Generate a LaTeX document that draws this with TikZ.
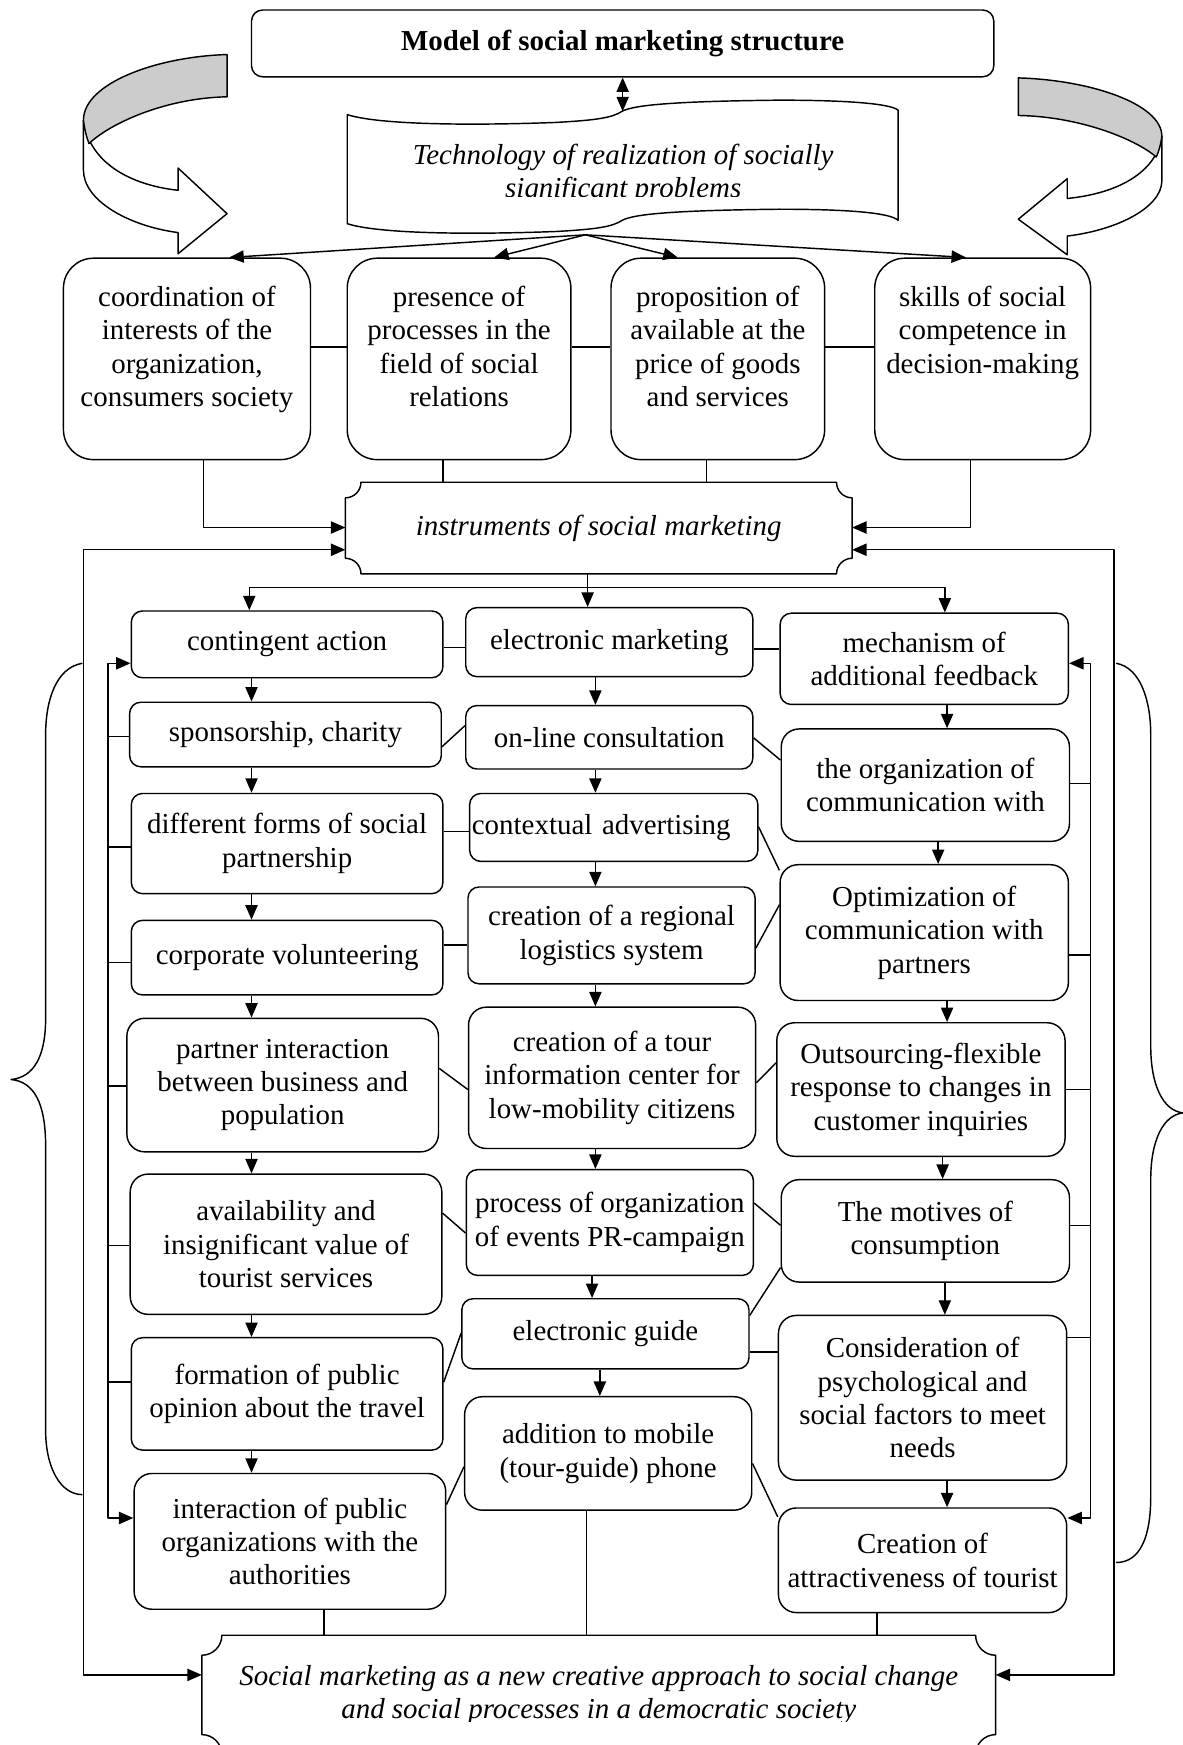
\documentclass[tikz,border=0pt]{standalone}
\usepackage{fontspec}
\setmainfont{Liberation Serif}
\usepackage{tikz}
\usetikzlibrary{arrows.meta,calc}

\newcommand{\boxfont}{\fontsize{26}{30}\selectfont}
\newcommand{\toptext}[2]{\parbox[c][136pt][t]{#1}{\centering\strut #2}}
% rectangle with concave corners round a node
\newcommand{\plaque}[2]{%
  \draw let \p1=(#1.north west), \p2=(#1.south east) in
    (\x1+#2,\y1) -- (\x2-#2,\y1) arc[start angle=180, end angle=270, radius=#2]
    -- (\x2,\y2+#2) arc[start angle=90, end angle=180, radius=#2]
    -- (\x1+#2,\y2) arc[start angle=0, end angle=90, radius=#2]
    -- (\x1,\y1-#2) arc[start angle=270, end angle=360, radius=#2] -- cycle;}
% curved block arrow
\newcommand{\bendarrow}{%
  \draw[fill=white] (75,108) -- (75,153) .. controls (75,180) and (115,203) .. (160,209)
    -- (160,228) -- (204,192) -- (160,151) -- (160,171)
    .. controls (115,166) and (80,145) .. (75,108) -- cycle;
  \draw[fill=black!20] (204,49) .. controls (140,51) and (75,75) .. (75,108)
    .. controls (76,117) and (78,124) .. (80,129)
    .. controls (100,110) and (150,88) .. (204,87) -- cycle;}

\tikzset{
  block/.style={draw, rounded corners=10pt, inner sep=0pt, align=center, font=\boxfont},
  bigr/.style={rounded corners=16pt},
  topblock/.style={block, rounded corners=27pt, minimum height=181pt, inner ysep=22.5pt},
  lbox/.style={block, minimum width=280pt},
  mbox/.style={block, minimum width=258pt},
  rbox/.style={block, minimum width=259pt},
  italtext/.style={inner sep=0pt, align=center, font=\boxfont\itshape},
  arr/.style={-{Triangle[length=13pt,width=11pt]}},
  arrs/.style={{Triangle[length=13pt,width=11pt]}-{Triangle[length=13pt,width=11pt]}},
}

\begin{document}
\begin{tikzpicture}[x=1pt, y=-1pt, line width=1.3pt, line join=round]
\useasboundingbox (0,0) rectangle (1063,1568);

% header and technology
\node[block, font=\boxfont\bfseries, minimum width=667pt, minimum height=60pt] (title) at (559.5,39) {Model of social marketing structure};
\draw (312,103) .. controls (340,112) and (420,113) .. (500,110)
  .. controls (535,108) and (550,106) .. (559,100)
  .. controls (570,94) and (610,91) .. (700,90)
  .. controls (760,90) and (800,93) .. (807,99) -- (807,198)
  .. controls (800,191) and (760,188) .. (700,188)
  .. controls (610,189) and (570,192) .. (559,198)
  .. controls (550,204) and (535,206) .. (500,208)
  .. controls (420,211) and (340,210) .. (312,201) -- cycle;
\begin{scope}
  \clip (0,0) rectangle (1063,177);
  \node[italtext] (tech) at (560,156) {Technology of realization of socially\\significant problems};
\end{scope}
\coordinate (techtop) at (559.5,100);
\coordinate (techbot) at (526,211);
\draw[arrs] (title.south) -- (techtop);

\bendarrow
\begin{scope}[xshift=1119pt, yshift=-26.5pt, xscale=-1, yscale=0.888]
  \bendarrow
\end{scope}

% principles
\node[topblock, minimum width=222pt] (B1) at (168,322.5) {\toptext{222pt}{coordination of\\interests of the\\organization,\\consumers society}};
\node[topblock, minimum width=201pt] (B2) at (412.5,322.5) {\toptext{201pt}{presence of\\processes in the\\field of social\\relations}};
\node[topblock, minimum width=192pt] (B3) at (645,322.5) {\toptext{192pt}{proposition of\\available at the\\price of goods\\and services}};
\node[topblock, minimum width=194pt] (B4) at (883,322.5) {\toptext{194pt}{skills of social\\competence in\\decision-making}};

\foreach \b/\x in {B1/206,B2/444,B3/609,B4/868}
  \draw[arr] (techbot) -- (\b.north -| \x,0);
\foreach \a/\b in {B1/B2,B2/B3,B3/B4}
  \draw (\a.east |- 0,312) -- (\b.west |- 0,312);

% instruments
\node[italtext, minimum width=454pt, minimum height=81pt] (instr) at (538,474.5) {instruments of social marketing};
\plaque{instr}{14pt}
\draw[arr] (B1.south -| 183,0) |- (instr.west |- 0,474);
\draw (B2.south -| 398,0) -- (instr.north -| 398,0);
\draw (B3.south -| 635,0) -- (instr.north -| 635,0);
\draw[arr] (B4.south -| 872,0) |- (instr.east |- 0,474);

% left column
\node[lbox, minimum height=60pt] (L1) at (258,579) {contingent action};
\node[lbox, minimum height=58pt] (L2) at (256.5,660) {sponsorship, charity};
\node[lbox, minimum height=90pt] (L3) at (258,758) {different forms of social\\partnership};
\node[lbox, minimum height=67pt] (L4) at (258,860.5) {corporate volunteering};
\node[lbox, bigr, minimum height=120pt] (L5) at (254,975) {partner interaction\\between business and\\population};
\node[lbox, bigr, minimum height=126pt] (L6) at (257,1118) {availability and\\insignificant value of\\tourist services};
\node[lbox, minimum height=101pt] (L7) at (258,1252.5) {formation of public\\opinion about the travel};
\node[lbox, bigr, minimum height=122pt] (L8) at (260.5,1385) {interaction of public\\organizations with the\\authorities};

% middle column
\node[mbox, minimum height=62pt] (M1) at (547.5,577) {electronic marketing};
\node[mbox, minimum height=57pt] (M2) at (547.5,662.5) {on-line consultation};
\node[mbox, minimum height=61pt, text width=255pt, inner xsep=2pt, align=left] (M3) at (551.5,743.5) {contextual advertising};
\node[mbox, minimum height=87pt] (M4) at (549.5,840.5) {creation of a regional\\logistics system};
\node[mbox, bigr, minimum height=127pt] (M5) at (550,968.5) {creation of a tour\\information center for\\low-mobility citizens};
\node[mbox, minimum height=95pt] (M6) at (548,1098.5) {process of organization\\of events PR-campaign};
\node[mbox, minimum height=63pt] (M7) at (544,1198.5) {electronic guide};
\node[mbox, bigr, minimum height=102pt] (M8) at (546.5,1306) {addition to mobile\\(tour-guide) phone};

% right column
\node[rbox, minimum height=82pt] (R1) at (830.5,592) {mechanism of\\additional feedback};
\node[rbox, bigr, minimum height=101pt] (R2) at (831.5,705.5) {the organization of\\communication with};
\node[rbox, bigr, minimum height=122pt] (R3) at (830.5,838) {Optimization of\\communication with\\partners};
\node[rbox, bigr, minimum height=120pt] (R4) at (827.5,979) {Outsourcing-flexible\\response to changes in\\customer inquiries};
\node[rbox, bigr, minimum height=92pt] (R5) at (831.5,1106) {The motives of\\consumption};
\node[rbox, bigr, minimum height=148pt] (R6) at (829,1256) {Consideration of\\psychological and\\social factors to meet\\needs};
\node[rbox, bigr, minimum height=94pt] (R7) at (829,1402) {Creation of\\attractiveness of tourist};

% split from instruments
\coordinate (split) at (528,528);
\draw[arr] (instr.south -| split) -- (M1.north -| split);
\draw[arr] (split) -| (L1.north -| 224,0);
\draw[arr] (split) -| (R1.north -| 849,0);

\foreach \a/\b in {L1/L2,L2/L3,L3/L4,L4/L5,L5/L6,L6/L7,L7/L8}
  \draw[arr] (\a.south -| 226,0) -- (\b.north -| 226,0);
\foreach \a/\b/\x in {M1/M2/535,M2/M3/535,M3/M4/535,M4/M5/535,M5/M6/535,M6/M7/532,M7/M8/539}
  \draw[arr] (\a.south -| \x,0) -- (\b.north -| \x,0);
\foreach \a/\b/\x in {R1/R2/851,R2/R3/843,R3/R4/851,R4/R5/847,R5/R6/849,R6/R7/851}
  \draw[arr] (\a.south -| \x,0) -- (\b.north -| \x,0);

% links between columns
\foreach \a/\ya/\b/\yb in {L1/582/M1/582,L2/671/M2/652,L3/747/M3/747,L4/849/M4/849,
    L5/960/M5/979,L6/1090/M6/1108,L7/1242/M7/1198,L8/1352/M8/1318,
    M1/583/R1/583,M2/663/R2/683,M3/743/R3/782,M4/852/R3/813,M5/973/R4/955,
    M6/1081/R5/1101,M7/1182/R5/1139,M7/1215/R6/1215,M8/1315/R7/1363}
  \draw (\a.east |- 0,\ya) -- (\b.west |- 0,\yb);

% feedback lines
\coordinate (fbL) at (97,1000);
\coordinate (fbR) at (980,1000);
\draw[arrs] (L1.west |- 0,596) -| (fbL) |- (L8.west |- 0,1364);
\draw[arrs] (R1.east |- 0,596) -| (fbR) |- (R7.east |- 0,1364);
\foreach \n/\y in {L2/662,L3/761,L4/865,L5/976,L6/1119,L7/1242}
  \draw (\n.west |- 0,\y) -- (fbL |- 0,\y);
\foreach \n/\y in {R2/704,R3/858,R4/979,R5/1101,R6/1202}
  \draw (\n.east |- 0,\y) -- (fbR |- 0,\y);

% result
\begin{scope}
  \clip (0,0) rectangle (1063,1547);
  \node[italtext, minimum width=712pt, minimum height=106pt] (soc) at (538,1523) {Social marketing as a new creative approach to social change\\and social processes in a democratic society};
\end{scope}
\plaque{soc}{18pt}
\draw (L8.south -| 291,0) -- (soc.north -| 291,0);
\draw (M8.south -| 527,0) -- (soc.north -| 527,0);
\draw (R7.south -| 788,0) -- (soc.north -| 788,0);

% outer loops
\coordinate (loopL) at (75,1000);
\coordinate (loopR) at (1001,1000);
\draw[arrs] (instr.west |- 0,494) -| (loopL) |- (soc.west |- 0,1505);
\draw[arrs] (instr.east |- 0,494) -| (loopR) |- (soc.east |- 0,1505);

% braces
\draw (74,596) .. controls (50,600) and (41,630) .. (41,660) -- (41,915)
  .. controls (41,950) and (30,968) .. (10,970)
  .. controls (30,972) and (41,990) .. (41,1030) -- (41,1285)
  .. controls (41,1320) and (55,1343) .. (74,1343);
\draw (1003,596) .. controls (1025,600) and (1034,630) .. (1034,660) -- (1034,940)
  .. controls (1034,975) and (1045,998) .. (1063,1000)
  .. controls (1045,1002) and (1034,1025) .. (1034,1060) -- (1034,1345)
  .. controls (1034,1380) and (1025,1404) .. (1003,1404);
\end{tikzpicture}
\end{document}
